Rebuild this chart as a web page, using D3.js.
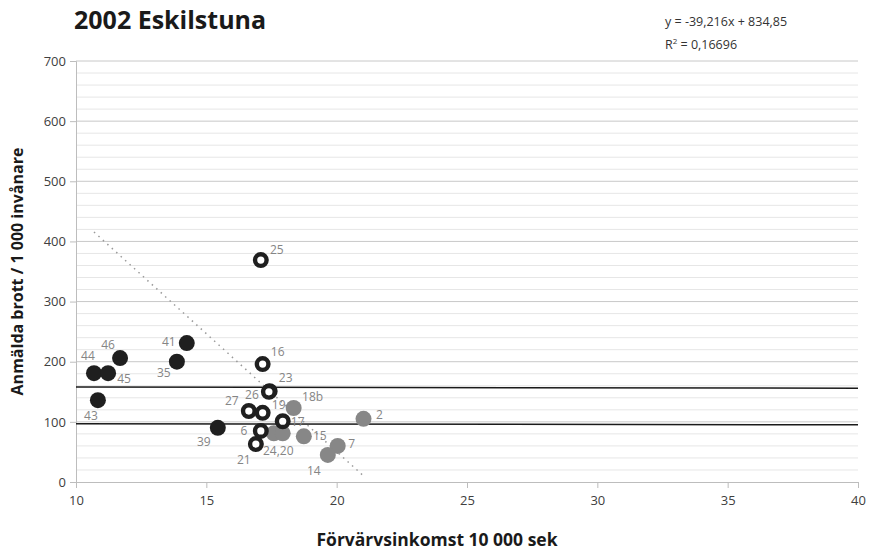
<!DOCTYPE html>
<html>
<head>
<meta charset="utf-8">
<script src="https://cdn.jsdelivr.net/npm/d3@7"></script>
<style>
  body { margin: 0; background: #fff; }
  svg { font-family: "Open Sans", sans-serif; }
</style>
</head>
<body>
<svg id="chart" width="870" height="557"></svg>
<script>
// data
const darkNames = ["44", "45", "46", "43", "41", "35", "39"];
const darkX = [10.69, 11.23, 11.69, 10.84, 14.25, 13.87, 15.44];
const darkY = [181, 181, 206, 136, 231, 200, 90];

const ringNames = ["25", "16", "23", "26", "27", "19", "17", "6", "21"];
const ringX = [17.09, 17.16, 17.43, 17.40, 16.63, 17.16, 17.93, 17.09, 16.90];
const ringY = [369, 196, 151, 150, 118, 115, 101, 85, 63];

const grayNames = ["18b", "15", "2", "7", "14", "24", "20"];
const grayX = [18.35, 18.74, 21.03, 20.04, 19.66, 17.59, 17.93];
const grayY = [123, 76, 105, 60, 45, 81, 81];

const xTicks = [10, 15, 20, 25, 30, 35, 40];
const yTicks = [0, 100, 200, 300, 400, 500, 600, 700];
const refLines = [[158, 156], [97, 95]];
const slope = -39.216, intercept = 834.85;

// label placement (dx, dy from point centre)
const labelOffset = {
  "44": [-6, -13], "45": [16, 10], "46": [-12, -9], "43": [-7, 20], "41": [-18, 3],
  "35": [-13, 15], "39": [-14, 18], "25": [16, -6], "16": [15, -8], "23": [16, -9],
  "26": [-17, 7], "27": [-17, -6], "19": [16, -4], "17": [15, 5], "6": [-17, 4],
  "21": [-12, 20], "18b": [19, -7], "15": [16, 4], "2": [16, 0], "7": [14, 2],
  "14": [-14, 20], "24,20": [0, 22]
};

const svg = d3.select("#chart");
const m = { left: 76, right: 858, top: 61, bottom: 482 };
const x = d3.scaleLinear().domain([10, 40]).range([m.left, m.right]);
const y = d3.scaleLinear().domain([0, 700]).range([m.bottom, m.top]);

// grid
const minor = d3.range(20, 701, 20).filter(v => v % 100 !== 0);
svg.append("g").selectAll("line").data(minor).join("line")
  .attr("x1", m.left).attr("x2", m.right)
  .attr("y1", d => y(d)).attr("y2", d => y(d))
  .attr("stroke", "#e6e6e6").attr("stroke-width", 1);
svg.append("g").selectAll("line").data(yTicks.slice(1)).join("line")
  .attr("x1", m.left).attr("x2", m.right)
  .attr("y1", d => y(d)).attr("y2", d => y(d))
  .attr("stroke", "#c8c8c8").attr("stroke-width", 1);

// axes
const xAxis = svg.append("g").attr("transform", `translate(0,${m.bottom})`)
  .call(d3.axisBottom(x).tickValues(xTicks).tickSize(6).tickPadding(8));
const yAxis = svg.append("g").attr("transform", `translate(${m.left},0)`)
  .call(d3.axisLeft(y).tickValues(yTicks).tickSize(6).tickPadding(4));
[xAxis, yAxis].forEach(a => {
  a.select(".domain").attr("stroke", "#bdbdbd");
  a.selectAll(".tick line").attr("stroke", "#bdbdbd");
  a.selectAll(".tick text").attr("fill", "#404040").style("font-size", "13px")
    .style("font-family", "'Open Sans', sans-serif");
});

// reference lines
svg.append("g").selectAll("line").data(refLines).join("line")
  .attr("x1", x(10)).attr("x2", x(40))
  .attr("y1", d => y(d[0])).attr("y2", d => y(d[1]))
  .attr("stroke", "#1a1a1a").attr("stroke-width", 1.5);

// trend line over data range
const allX = darkX.concat(ringX, grayX);
const [x0, x1] = d3.extent(allX);
svg.append("line")
  .attr("x1", x(x0)).attr("y1", y(slope * x0 + intercept))
  .attr("x2", x(x1)).attr("y2", y(slope * x1 + intercept))
  .attr("stroke", "#999").attr("stroke-width", 1.5)
  .attr("stroke-dasharray", "1.5,4.5");

// points
svg.append("g").selectAll("circle").data(d3.zip(grayX, grayY)).join("circle")
  .attr("cx", d => x(d[0])).attr("cy", d => y(d[1])).attr("r", 8)
  .attr("fill", "#878787");
svg.append("g").selectAll("circle").data(d3.zip(darkX, darkY)).join("circle")
  .attr("cx", d => x(d[0])).attr("cy", d => y(d[1])).attr("r", 8)
  .attr("fill", "#1f1f1f");
svg.append("g").selectAll("circle").data(d3.zip(ringX, ringY)).join("circle")
  .attr("cx", d => x(d[0])).attr("cy", d => y(d[1])).attr("r", 5.8)
  .attr("fill", "#fff").attr("stroke", "#1f1f1f").attr("stroke-width", 4.4);

// point labels
const labels = [];
darkNames.forEach((n, i) => labels.push([n, darkX[i], darkY[i]]));
ringNames.forEach((n, i) => labels.push([n, ringX[i], ringY[i]]));
grayNames.forEach((n, i) => { if (n !== "24" && n !== "20") labels.push([n, grayX[i], grayY[i]]); });
labels.push(["24,20", (grayX[5] + grayX[6]) / 2, grayY[5]]);
svg.append("g").selectAll("text").data(labels).join("text")
  .attr("x", d => x(d[1]) + labelOffset[d[0]][0])
  .attr("y", d => y(d[2]) + labelOffset[d[0]][1])
  .attr("text-anchor", "middle")
  .attr("fill", "#858585").style("font-size", "12px")
  .text(d => d[0]);

// titles
svg.append("text").attr("x", 74).attr("y", 29)
  .style("font-size", "25px").style("font-weight", "700").attr("fill", "#1a1a1a")
  .text("2002 Eskilstuna");
svg.append("text").attr("x", 665).attr("y", 26)
  .style("font-size", "12.5px").attr("fill", "#333")
  .text("y = -39,216x + 834,85");
const r2 = svg.append("text").attr("x", 665).attr("y", 49)
  .style("font-size", "12.5px").attr("fill", "#333");
r2.append("tspan").text("R");
r2.append("tspan").attr("dy", -5).style("font-size", "8px").text("2");
r2.append("tspan").attr("dy", 5).text(" = 0,16696");
svg.append("text").attr("x", 437).attr("y", 546)
  .attr("text-anchor", "middle").style("font-size", "17.5px").style("font-weight", "700")
  .attr("fill", "#1a1a1a").text("Förvärvsinkomst 10 000 sek");
svg.append("text").attr("transform", `translate(23,${(m.top + m.bottom) / 2}) rotate(-90)`)
  .attr("text-anchor", "middle").style("font-size", "16px").style("font-weight", "700")
  .attr("fill", "#1a1a1a").text("Anmälda brott / 1 000 invånare");
</script>
</body>
</html>
